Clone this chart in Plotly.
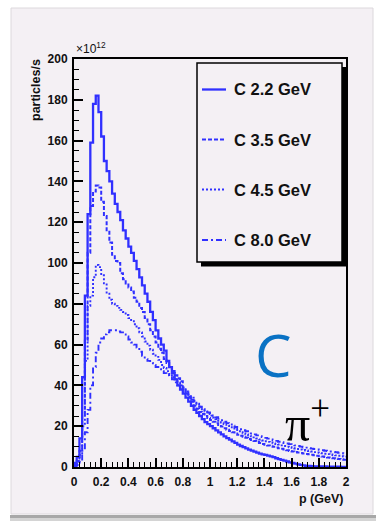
import plotly.graph_objects as go

# Momentum binning: 100 bins of 0.02 GeV from 0 to 2 GeV
BIN_WIDTH = 0.02
N_BINS = 100
bin_edges = [round(i * BIN_WIDTH, 2) for i in range(N_BINS + 1)]

# pi+ yield (units of 1e12 particles/s) per momentum bin, carbon target
c_2p2 = [2, 5, 14, 44, 84, 124, 159, 178, 182, 174,
         162, 150, 145, 140, 134, 129, 125, 121, 116, 112,
         108, 105, 101, 97, 93, 89, 85, 81, 76, 72,
         67, 63, 60, 57, 52, 49, 46, 43, 40, 38,
         36, 34, 32, 30, 28, 26.5, 25, 23.5, 22, 21,
         20, 19, 18, 17, 16, 15, 14.2, 13.4, 12.6, 11.8,
         11, 10.3, 9.7, 9.1, 8.5, 8, 7.5, 7, 6.6, 6.2,
         5.9, 5.6, 5.2, 4.8, 4.3, 3.9, 3.5, 3.1, 2.7, 2.3,
         2, 1.7, 1.3, 1, 0.8, 0.6, 0.5, 0.4, 0.35, 0.3,
         0.3, 0.25, 0.25, 0.2, 0.2, 0.2, 0.15, 0.15, 0.1, 0.1]

c_3p5 = [1, 3, 8, 25, 62, 105, 128, 135, 138, 137,
         130, 123, 116, 110, 104, 101, 100, 95, 92, 90,
         88, 86, 83, 81, 78, 76, 73, 70, 67, 64,
         61, 58, 56, 53, 51, 49, 47, 45, 43.5, 42,
         39, 36.5, 34, 32, 30, 28.5, 27, 26, 25, 24,
         23, 22.2, 21.4, 20.6, 19.8, 19, 18.3, 17.6, 17, 16.4,
         15.8, 15.3, 14.8, 14.3, 13.7, 13.2, 12.7, 12.2, 11.8, 11.3,
         10.9, 10.5, 10.2, 9.9, 9.6, 9.2, 8.9, 8.6, 8.2, 7.9,
         7.6, 7.3, 7.1, 6.9, 6.6, 6.4, 6.2, 6, 5.8, 5.5,
         5.3, 5.1, 4.9, 4.7, 4.5, 4.3, 4.1, 3.9, 3.8, 3.6]

c_4p5 = [0.5, 2, 6, 20, 52, 79, 84, 93, 99, 98,
         94, 90, 85, 82, 80, 79, 78, 77, 76, 74.5,
         73, 71.5, 70, 68, 66, 64, 61.5, 59.5, 57.5, 55.5,
         54, 52.5, 50, 48.5, 47, 45.5, 44, 43, 41.5, 40,
         38.5, 37, 35.5, 34, 32.5, 31, 29.5, 28.3, 27.2, 26.2,
         25.2, 24.3, 23.5, 22.6, 21.8, 21, 20.2, 19.5, 18.8, 18.2,
         17.6, 17, 16.5, 16, 15.5, 15, 14.5, 14, 13.5, 13,
         12.6, 12.3, 12, 11.6, 11.3, 11, 10.6, 10.3, 10, 9.7,
         9.4, 9.1, 8.8, 8.6, 8.3, 8.1, 7.8, 7.6, 7.3, 7.1,
         6.9, 6.7, 6.5, 6.3, 6.1, 5.9, 5.7, 5.5, 5.3, 5.1]

c_8p0 = [0.3, 1, 3, 8, 17, 28, 40, 49, 56, 61,
         63, 65, 66, 67, 67, 67, 66.5, 66, 65, 64,
         62.5, 61, 60, 58.5, 56.5, 54.5, 53, 52, 51, 50,
         49, 48, 47, 46, 45, 44, 43, 41.5, 40, 39,
         37.5, 36, 34.5, 33, 31.5, 30.5, 29.5, 28.5, 27.5, 26.7,
         25.9, 25.1, 24.4, 23.6, 22.9, 22.2, 21.5, 20.9, 20.2, 19.6,
         19, 18.5, 18, 17.5, 17, 16.5, 16, 15.5, 15.1, 14.7,
         14.3, 13.9, 13.5, 13.1, 12.8, 12.4, 12.1, 11.8, 11.5, 11.2,
         10.9, 10.6, 10.3, 10, 9.8, 9.5, 9.3, 9, 8.8, 8.6,
         8.4, 8.2, 8, 7.8, 7.6, 7.4, 7.2, 7, 6.8, 6.6]

series_labels = ["C 2.2 GeV", "C 3.5 GeV", "C 4.5 GeV", "C 8.0 GeV"]
series_values = [c_2p2, c_3p5, c_4p5, c_8p0]
series_dash = ["solid", "4px,2px", "2px,2px", "6px,3px,2px,3px"]
series_width = [2.3, 2.0, 1.9, 1.9]

y_ticks = list(range(0, 201, 20))
x_ticks = [0, 0.2, 0.4, 0.6, 0.8, 1, 1.2, 1.4, 1.6, 1.8, 2]
x_ticktext = ["0", "0.2", "0.4", "0.6", "0.8", "1", "1.2", "1.4", "1.6", "1.8", "2"]

BLUE = "#3030ff"
PANEL = "#f4f0f4"
FONT = "Liberation Sans"

# Plot-area placement in page pixels
W_PX, H_PX = 379, 522
L, R, T, B = 74, 346, 59, 467


def fx(px):
    return (px - L) / (R - L)


def fy(py):
    return (B - py) / (B - T)


fig = go.Figure()

for label, vals, dash, lw in zip(series_labels, series_values, series_dash, series_width):
    fig.add_trace(go.Scatter(
        x=bin_edges,
        y=vals + [vals[-1]],
        mode="lines",
        line=dict(color=BLUE, width=lw, dash=dash, shape="hv"),
        name=label,
        showlegend=False,
        hoverinfo="skip",
    ))

shapes = [
    # canvas panel
    dict(type="rect", xref="paper", yref="paper", layer="below",
         x0=fx(11), x1=fx(373), y0=fy(514), y1=fy(8),
         fillcolor=PANEL, line=dict(color="#dcd8dc", width=1)),
    # bottom bevel
    dict(type="rect", xref="paper", yref="paper", layer="below",
         x0=fx(10), x1=fx(376), y0=fy(518), y1=fy(515),
         fillcolor="#a8a8a8", line=dict(width=0)),
    dict(type="rect", xref="paper", yref="paper", layer="below",
         x0=fx(10), x1=fx(376), y0=fy(521), y1=fy(518),
         fillcolor="#d4d4d4", line=dict(width=0)),
    # legend shadow and box
    dict(type="rect", xref="paper", yref="paper",
         x0=fx(201), x1=fx(346.5), y0=fy(266.5), y1=fy(67),
         fillcolor="black", line=dict(width=0)),
    dict(type="rect", xref="paper", yref="paper",
         x0=fx(197), x1=fx(342), y0=fy(262), y1=fy(63),
         fillcolor=PANEL, line=dict(color="black", width=1.5)),
]

annotations = []
legend_rows = [89.5, 139.5, 189.5, 240]
for label, dash, lw, row in zip(series_labels, series_dash, series_width, legend_rows):
    shapes.append(dict(type="line", xref="paper", yref="paper",
                       x0=fx(202), x1=fx(226), y0=fy(row), y1=fy(row),
                       line=dict(color=BLUE, width=lw, dash=dash)))
    annotations.append(dict(xref="paper", yref="paper", x=fx(232), y=fy(row),
                            xanchor="left", yanchor="middle", showarrow=False,
                            text=label,
                            font=dict(family=FONT, size=16.5, color="#111111", weight="bold")))

annotations += [
    dict(xref="paper", yref="paper", x=fx(74), y=fy(58), xanchor="left", yanchor="bottom",
         showarrow=False, text="×10<sup>12</sup>",
         font=dict(family=FONT, size=12, color="#111111")),
    dict(xref="paper", yref="paper", x=fx(36), y=fy(57), xanchor="center", yanchor="top",
         showarrow=False, text="particles/s", textangle=-90,
         font=dict(family=FONT, size=12.5, color="#111111", weight="bold")),
    dict(xref="paper", yref="paper", x=fx(345), y=fy(499), xanchor="right", yanchor="middle",
         showarrow=False, text="p (GeV)",
         font=dict(family=FONT, size=12.5, color="#111111", weight="bold")),
    dict(xref="paper", yref="paper", x=fx(273), y=fy(354), xanchor="center", yanchor="middle",
         showarrow=False, text="C",
         font=dict(family="Open Sans", size=58, color="#0a72c4")),
    dict(xref="paper", yref="paper", x=fx(307), y=fy(420), xanchor="center", yanchor="middle",
         showarrow=False, text="π<sup>+</sup>",
         font=dict(family="Liberation Serif", size=50, color="#000000")),
]

fig.update_layout(
    width=W_PX, height=H_PX,
    margin=dict(l=L, r=W_PX - R, t=T, b=H_PX - B, autoexpand=False),
    paper_bgcolor="white",
    plot_bgcolor="rgba(0,0,0,0)",
    shapes=shapes,
    annotations=annotations,
    showlegend=False,
)

fig.update_xaxes(
    range=[0, 2], tickvals=x_ticks, ticktext=x_ticktext,
    ticks="inside", ticklen=9, tickwidth=1.5, tickcolor="black",
    minor=dict(ticks="inside", ticklen=5, tickwidth=1.2, tickcolor="black", dtick=0.04, tick0=0),
    showline=True, linecolor="black", linewidth=2, mirror=True,
    showgrid=False, zeroline=False,
    tickfont=dict(family=FONT, size=12, color="#111111", weight="bold"),
    ticklabelstandoff=3,
)
fig.update_yaxes(
    range=[0, 200], tickvals=y_ticks,
    ticks="inside", ticklen=9, tickwidth=1.5, tickcolor="black",
    minor=dict(ticks="inside", ticklen=5, tickwidth=1.2, tickcolor="black", dtick=5, tick0=0),
    showline=True, linecolor="black", linewidth=2, mirror=True,
    showgrid=False, zeroline=False,
    tickfont=dict(family=FONT, size=12, color="#111111", weight="bold"),
    ticklabelstandoff=2,
)

fig.write_html("out.html")
